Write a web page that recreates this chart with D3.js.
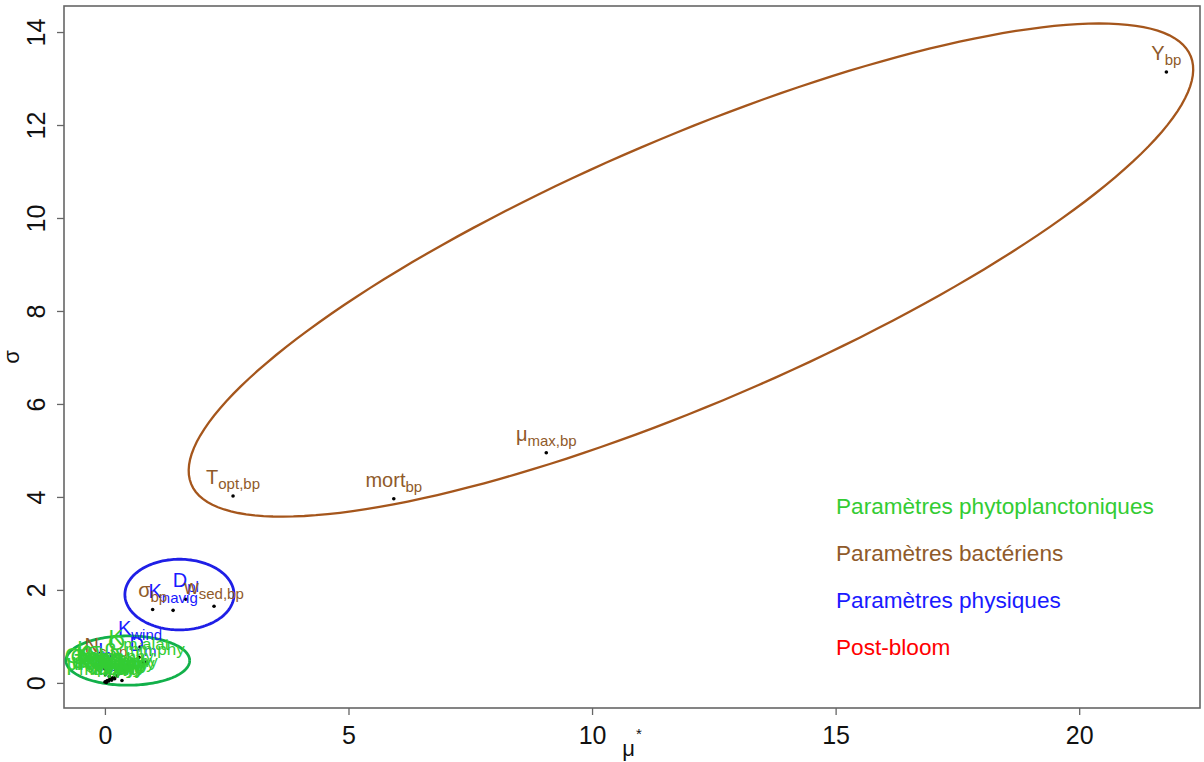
<!DOCTYPE html>
<html>
<head>
<meta charset="utf-8">
<script src="https://cdn.jsdelivr.net/npm/d3@7"></script>
<style>
  body { margin: 0; background: #fff; }
  svg { display: block; font-family: Arial, "Liberation Sans", sans-serif; }
</style>
</head>
<body>
<div id="chart"></div>
<script>
// groups: 0 = phytoplankton, 1 = bacteria, 2 = physical
const groupColors = ["#33cc33", "#8f5a2a", "#1a1aff"];
const legendLabels = ["Paramètres phytoplanctoniques", "Paramètres bactériens", "Paramètres physiques", "Post-bloom"];
const legendColors = ["#33cc33", "#8f5a2a", "#1a1aff", "#ff0000"];

// morris results: parameter symbol, subscript, mu*, sigma, group (drawn in this order)
const paramMain = ["K", "D", "I", "D", "K", "D", "σ", "w", "T", "mort", "μ", "Y", "N",
  "μ", "K", "K", "mort", "T", "I", "Y", "α", "resp", "exu", "w", "θ", "K", "Q", "β",
  "Q", "K", "σ", "Chl", "k", "γ"];
const paramSub = ["wind", "m", "0", "pl", "navig", "bio", "bp", "sed,bp", "opt,bp", "bp", "max,bp", "bp", "c,bp",
  "max,phy", "N,phy", "P,phy", "phy", "opt,phy", "opt,phy", "phy", "phy", "phy", "phy", "sed,phy", "max,phy", "m,alat", "min,phy", "phy",
  "max,phy", "Si,phy", "phy", "C,phy", "resp,phy", "phy"];
const paramMu = [0.72, 0.78, 0.00, 1.66, 1.40, 0.15, 0.98, 2.24, 2.63, 5.93, 9.06, 21.79, 0.02,
  0.00, 0.02, 0.03, 0.05, 0.08, 0.10, 0.12, 0.14, 0.18, 0.20, 0.25, 0.30, 0.70, 0.85, 0.40,
  0.01, 0.04, 0.06, 0.09, 0.22, 0.35];
const paramSigma = [0.77, 0.43, 0.30, 1.80, 1.56, 0.10, 1.58, 1.65, 4.02, 3.96, 4.95, 13.14, 0.41,
  0.02, 0.03, 0.01, 0.05, 0.04, 0.08, 0.10, 0.06, 0.12, 0.09, 0.15, 0.20, 0.55, 0.45, 0.25,
  0.18, 0.22, 0.28, 0.14, 0.30, 0.05];
const paramGroup = [2, 2, 2, 2, 2, 2, 1, 1, 1, 1, 1, 1, 1,
  0, 0, 0, 0, 0, 0, 0, 0, 0, 0, 0, 0, 0, 0, 0,
  0, 0, 0, 0, 0, 0];

// group ellipses (centre, two conjugate semi-diameters), data units
const ellipseCx = [0.47, 12.03, 1.53];
const ellipseCy = [0.48, 8.88, 1.90];
const ellipseUx = [1.27, 10.26, 1.12];
const ellipseUy = [0, 4.60, 0];
const ellipseVx = [0, 1.02, 0];
const ellipseVy = [0.53, -2.64, 0.76];
const ellipseColors = ["#12b04a", "#a5561c", "#1f1fe6"];

const xTicks = [0, 5, 10, 15, 20];
const yTicks = [0, 2, 4, 6, 8, 10, 12, 14];

const width = 1204, height = 762;
const margin = { top: 6, right: 4, bottom: 54, left: 64 };

const svg = d3.select("#chart").append("svg")
  .attr("width", width)
  .attr("height", height);

const x = d3.scaleLinear().domain([-0.84, 22.48]).range([margin.left, width - margin.right]);
const y = d3.scaleLinear().domain([-0.54, 14.56]).range([height - margin.bottom, margin.top]);

svg.append("defs").append("clipPath").attr("id", "plotclip")
  .append("rect")
  .attr("x", margin.left).attr("y", margin.top)
  .attr("width", width - margin.right - margin.left)
  .attr("height", height - margin.bottom - margin.top);

// axes
const xAxis = svg.append("g")
  .attr("transform", `translate(0,${height - margin.bottom})`)
  .call(d3.axisBottom(x).tickValues(xTicks).tickSize(7).tickPadding(11).tickFormat(d3.format("d")));
xAxis.select(".domain").remove();
xAxis.selectAll("line").attr("stroke", "#666").attr("stroke-width", 1.3);
xAxis.selectAll("text").attr("font-size", 25).attr("fill", "#111").attr("font-family", "Arial, 'Liberation Sans', sans-serif");

const yAxis = svg.append("g")
  .attr("transform", `translate(${margin.left},0)`)
  .call(d3.axisLeft(y).tickValues(yTicks).tickSize(7).tickFormat(d3.format("d")));
yAxis.select(".domain").remove();
yAxis.selectAll("line").attr("stroke", "#666").attr("stroke-width", 1.3);
yAxis.selectAll("text")
  .attr("font-size", 25).attr("fill", "#111")
  .attr("font-family", "Arial, 'Liberation Sans', sans-serif")
  .attr("x", 0).attr("dy", "0.35em")
  .attr("text-anchor", "middle")
  .attr("transform", "translate(-28,0) rotate(-90)");

// box
svg.append("rect")
  .attr("x", margin.left).attr("y", margin.top)
  .attr("width", width - margin.right - margin.left)
  .attr("height", height - margin.bottom - margin.top)
  .attr("fill", "none").attr("stroke", "#666").attr("stroke-width", 1.6);

// axis titles
const xTitle = svg.append("text")
  .attr("x", (margin.left + width - margin.right) / 2)
  .attr("y", 756)
  .attr("text-anchor", "middle")
  .attr("font-size", 22).attr("fill", "#111");
xTitle.append("tspan").text("μ");
xTitle.append("tspan").attr("dy", -17).attr("dx", 1).attr("font-size", 15).text("*");

svg.append("text")
  .attr("transform", `translate(19,${(margin.top + height - margin.bottom) / 2}) rotate(-90)`)
  .attr("text-anchor", "middle")
  .attr("font-size", 22).attr("fill", "#111")
  .text("σ");

const plotArea = svg.append("g").attr("clip-path", "url(#plotclip)");

// ellipses
const line = d3.line().x(d => x(d[0])).y(d => y(d[1]));
ellipseCx.forEach((cx, i) => {
  const pts = d3.range(0, 361, 2).map(a => {
    const t = a * Math.PI / 180;
    return [cx + ellipseUx[i] * Math.cos(t) + ellipseVx[i] * Math.sin(t),
            ellipseCy[i] + ellipseUy[i] * Math.cos(t) + ellipseVy[i] * Math.sin(t)];
  });
  plotArea.append("path")
    .attr("d", line(pts))
    .attr("fill", "none")
    .attr("stroke", ellipseColors[i])
    .attr("stroke-width", i === 1 ? 2.3 : 2.8);
});

// points
plotArea.selectAll("circle.pt")
  .data(paramMu)
  .enter()
  .append("circle")
  .attr("class", "pt")
  .attr("cx", d => x(d))
  .attr("cy", (d, i) => y(paramSigma[i]))
  .attr("r", 1.8)
  .attr("fill", "#000");

// labels, above the points
paramMain.forEach((m, i) => {
  const big = paramGroup[i] === 0;
  const t = plotArea.append("text")
    .attr("x", x(paramMu[i]))
    .attr("y", y(paramSigma[i]) - 12)
    .attr("text-anchor", "middle")
    .attr("font-size", big ? 22 : 20)
    .attr("fill", groupColors[paramGroup[i]]);
  t.append("tspan").text(m);
  t.append("tspan").attr("dy", 5).attr("font-size", big ? 17 : 15).text(paramSub[i]);
});

// legend
svg.append("g").selectAll("text")
  .data(legendLabels)
  .enter()
  .append("text")
  .attr("x", 836)
  .attr("y", (d, i) => 514 + i * 47)
  .attr("font-size", 22.6)
  .attr("fill", (d, i) => legendColors[i])
  .text(d => d);
</script>
</body>
</html>
